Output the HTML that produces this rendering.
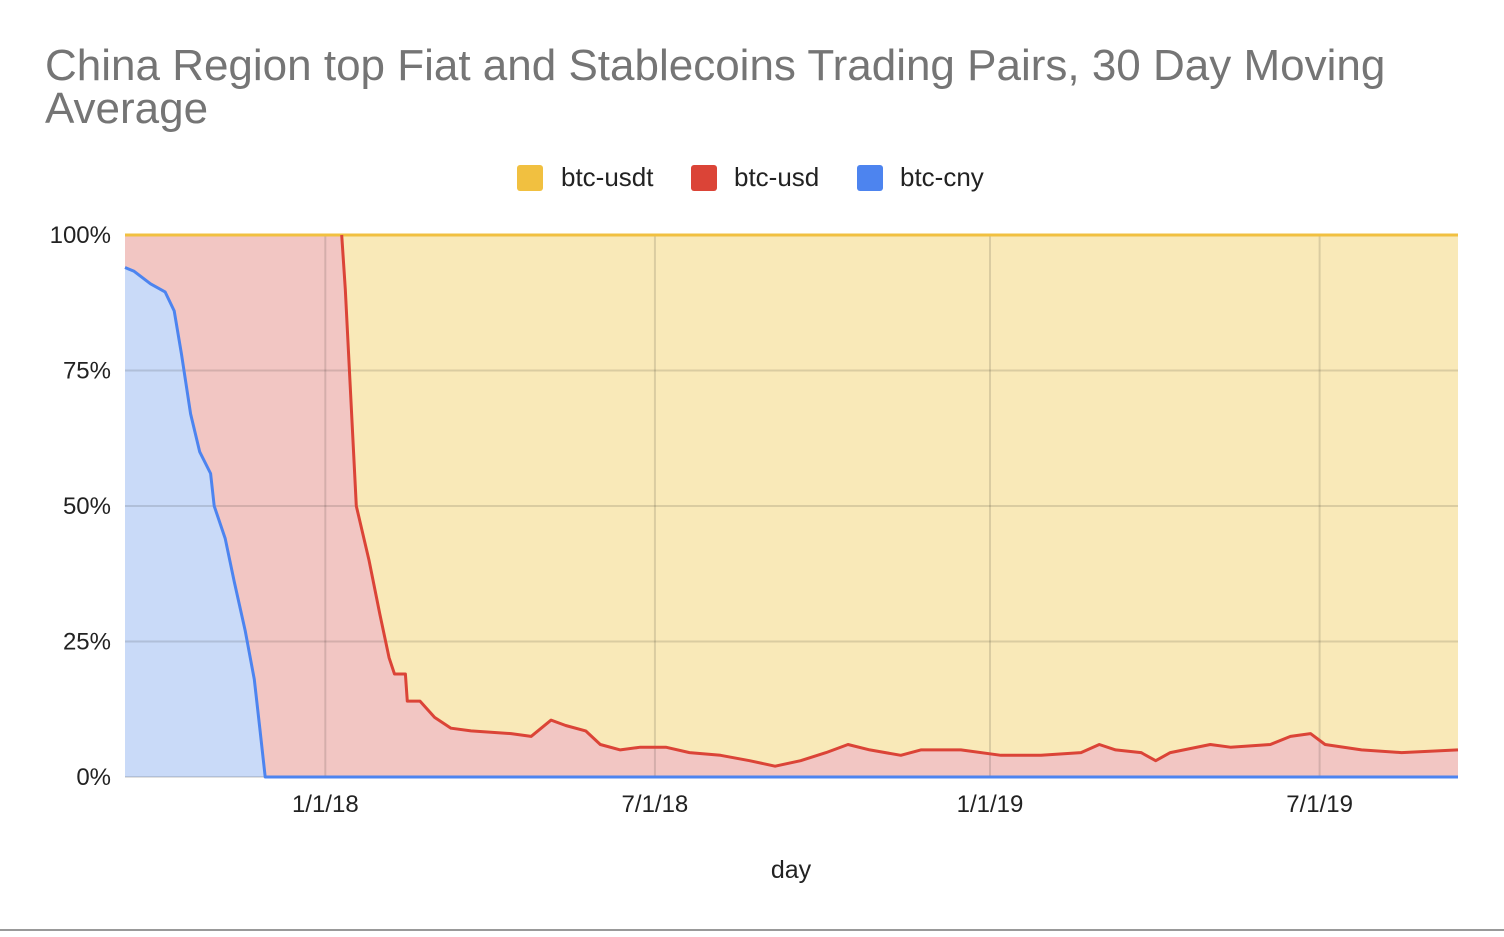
<!DOCTYPE html>
<html><head><meta charset="utf-8"><style>
body{margin:0;background:#fff;width:1504px;height:932px;overflow:hidden;font-family:"Liberation Sans",Arial,sans-serif}
</style></head><body>
<svg id="c" width="1504" height="932">
<text x="45" y="80" font-size="44" fill="#757575">China Region top Fiat and Stablecoins Trading Pairs, 30 Day Moving</text>
<text x="45" y="123" font-size="44" fill="#757575">Average</text>
<g>
<rect x="517" y="165" width="26" height="26" rx="3" fill="#f1c040"/>
<text x="561" y="186" font-size="26" fill="#222">btc-usdt</text>
<rect x="691" y="165" width="26" height="26" rx="3" fill="#db4437"/>
<text x="734" y="186" font-size="26" fill="#222">btc-usd</text>
<rect x="857" y="165" width="26" height="26" rx="3" fill="#4d84ef"/>
<text x="900" y="186" font-size="26" fill="#222">btc-cny</text>
</g>
<g id="plot"></g>
<text x="791" y="878" font-size="25" fill="#222" text-anchor="middle">day</text>
<line x1="0" y1="930" x2="1504" y2="930" stroke="#999" stroke-width="2"/>
</svg>
<script>
const days=[0,5,14,22,27,31,36,41,47,49,55,60,66,71,74,77,119,121,124,127,134,140,145,148,154,155,162,170,179,190,212,223,234,242,253,261,272,283,297,310,327,343,357,371,385,397,409,426,437,459,481,503,525,535,544,558,566,574,596,607,629,640,651,659,679,701,732];
const cny=[94,93.3,91,89.5,86,78,67,60,56,50,44,36,27,18,9,0,0,0,0,0,0,0,0,0,0,0,0,0,0,0,0,0,0,0,0,0,0,0,0,0,0,0,0,0,0,0,0,0,0,0,0,0,0,0,0,0,0,0,0,0,0,0,0,0,0,0,0];
const usd=[6,6.7,9,10.5,14,22,33,40,44,50,56,64,73,82,91,100,100,90,70,50,40,30,22,19,19,14,14,11,9,8.5,8,7.5,10.5,9.5,8.5,6,5,5.5,5.5,4.5,4,3,2,3,4.5,6,5,4,5,5,4,4,4.5,6,5,4.5,3,4.5,6,5.5,6,7.5,8,6,5,4.5,5];
const yTicks=[0,25,50,75,100];
const xTickDays=[110,291,475,656];
const xTickLabels=["1/1/18","7/1/18","1/1/19","7/1/19"];
const X0=125,X1=1458,Y0=777,Y1=235,D=732;
const sx=d=>X0+d/D*(X1-X0), sy=v=>Y0-v/100*(Y0-Y1);
const ns="http://www.w3.org/2000/svg", g=document.getElementById('plot');
function mk(t,a){const e=document.createElementNS(ns,t);for(const k in a)e.setAttribute(k,a[k]);g.appendChild(e);return e;}
const cnyTop=days.map((d,i)=>[sx(d),sy(cny[i])]);
const usdTop=days.map((d,i)=>[sx(d),sy(cny[i]+usd[i])]);
const pts=a=>a.map(p=>p[0].toFixed(1)+','+p[1].toFixed(1)).join(' ');
let e;
e=mk('rect',{x:X0,y:Y1,width:X1-X0,height:Y0-Y1,fill:'#f9e9b8'});

e=mk('polygon',{points:pts([[sx(0),Y0]].concat(usdTop,[[sx(D),Y0]])),fill:'#f2c6c3'});

e=mk('polygon',{points:pts([[sx(0),Y0]].concat(cnyTop,[[sx(D),Y0]])),fill:'#c9daf8'});

yTicks.forEach(v=>{
 const l=mk('line',{x1:X0,x2:X1,y1:sy(v),y2:sy(v),stroke:'rgba(0,0,0,0.12)','stroke-width':2});
 
 const t=mk('text',{x:111,y:sy(v)+8,'font-size':24,fill:'#222','text-anchor':'end'});t.textContent=v+'%';
 
});
xTickDays.forEach((d,i)=>{
 const l=mk('line',{x1:sx(d),x2:sx(d),y1:Y1,y2:Y0,stroke:'rgba(0,0,0,0.12)','stroke-width':2});
 
 const t=mk('text',{x:sx(d),y:812,'font-size':24,fill:'#222','text-anchor':'middle'});t.textContent=xTickLabels[i];
 
});
e=mk('polyline',{points:pts([[sx(0),sy(100)],[sx(D),sy(100)]]),fill:'none',stroke:'#f1c040','stroke-width':3});

e=mk('polyline',{points:pts(usdTop.filter((p,i)=>days[i]>=119)),fill:'none',stroke:'#db4437','stroke-width':3,'stroke-linejoin':'round'});

e=mk('polyline',{points:pts(cnyTop.concat([[sx(D),Y0]])),fill:'none',stroke:'#4d84ef','stroke-width':3,'stroke-linejoin':'round'});

</script>
</body></html>
